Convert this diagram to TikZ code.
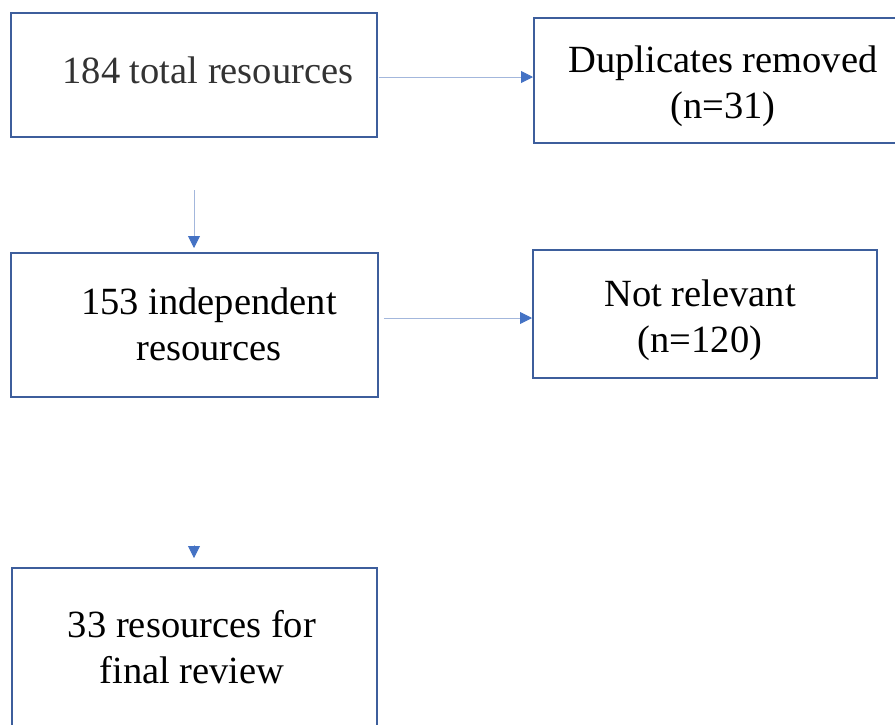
\documentclass[tikz,border=0pt]{standalone}
\usepackage{fontspec}
\setmainfont{Liberation Serif}
\usetikzlibrary{arrows.meta}
\definecolor{boxline}{HTML}{3D5E9C}
\definecolor{arrline}{HTML}{A3B7DC}
\definecolor{arrhead}{HTML}{4472C4}
\begin{document}
\begin{tikzpicture}[x=1pt,y=-1pt,
  flowbox/.style={draw=boxline,line width=1.8pt,rectangle,inner sep=0pt,anchor=north west},
  boxtext/.style={inner sep=0pt,align=center,anchor=base,font=\fontsize{38.5}{46}\selectfont},
  conn/.style={draw=arrline,line width=0.9pt,-{Triangle[length=12pt,width=12pt,color=arrhead]}}]
\useasboundingbox (0,0) rectangle (895,724);
\clip (0,0) rectangle (895,724);
\fill[white] (0,0) rectangle (895,724);
% boxes
\node[flowbox,minimum width=366pt,minimum height=124pt] (b1) at (10,12) {};
\node[flowbox,minimum width=380pt,minimum height=125pt] (b2) at (533,17) {};
\node[flowbox,minimum width=367pt,minimum height=144pt] (b3) at (10,252) {};
\node[flowbox,minimum width=344pt,minimum height=128pt] (b4) at (532,249) {};
\node[flowbox,minimum width=365pt,minimum height=180pt] (b5) at (11,567) {};
% texts (anchored at the baseline of the last line)
\node[boxtext,text=black!80] (t1) at (208,83) {184 total resources};
\node[boxtext] (t2) at (723,118) {Duplicates removed\\(n=31)};
\node[boxtext] (t3) at (209,360) {153 independent\\resources};
\node[boxtext] (t4) at (700,352) {Not relevant\\(n=120)};
\node[boxtext] (t5) at (192,683) {33 resources for\\final review};
% connectors
\coordinate (c1) at (194,190);
\coordinate (c2) at (194,545);
\draw[conn,shorten <=1pt] (b1.east |- 0,77) -- (b2.west |- 0,77);
\draw[conn,shorten >=4pt] (c1) -- (c1 |- b3.north);
\draw[conn,shorten <=5pt] (b3.east |- 0,318) -- (b4.west |- 0,318);
\draw[conn,shorten >=9pt] (c2) -- (c2 |- b5.north);
\end{tikzpicture}
\end{document}
